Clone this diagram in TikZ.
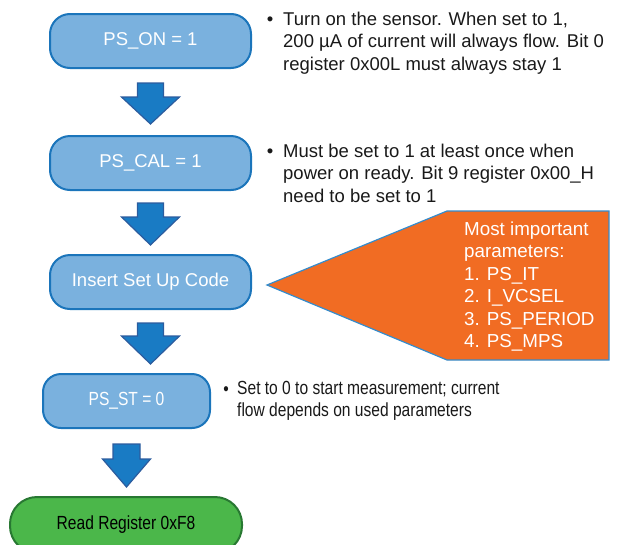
\documentclass[tikz,border=0pt]{standalone}
\usepackage{fontspec}
\setmainfont{Liberation Sans}
\newfontfamily\narrowsans[FakeStretch=0.82]{Liberation Sans}
\usepackage{xcolor}
\usetikzlibrary{calc, positioning}

\definecolor{boxblue}{RGB}{122,177,222}
\definecolor{boxline}{RGB}{27,117,187}
\definecolor{arrowblue}{RGB}{25,123,196}
\definecolor{arrowline}{RGB}{44,92,158}
\definecolor{gogreen}{RGB}{75,183,74}
\definecolor{goline}{RGB}{40,120,50}
\definecolor{calloutorange}{RGB}{241,108,35}
\definecolor{calloutline}{RGB}{52,140,205}

\begin{document}
\begin{tikzpicture}[x=1pt, y=-1pt,
		box/.style={draw=boxline, line width=2pt, fill=boxblue, rounded corners=20pt,
			minimum width=201pt, minimum height=54pt, inner sep=0pt,
			text=white, font=\fontsize{18.5}{22}\selectfont},
		gobox/.style={draw=goline, line width=2pt, fill=gogreen, rounded corners=27pt,
			minimum width=232pt, minimum height=56pt, inner sep=0pt,
			text=black, font=\narrowsans\fontsize{19}{22}\selectfont},
		blockarrow/.style={draw=arrowline, line width=1.2pt, fill=arrowblue, line join=miter},
		note/.style={inner sep=0pt, align=left, text=black!90, font=\fontsize{18.5}{22.4}\selectfont},
		callout/.style={draw=calloutline, line width=1.2pt, fill=calloutorange},
		params/.style={inner sep=0pt, align=left, text=white, font=\fontsize{18.8}{22.4}\selectfont}
		]
	\useasboundingbox (0,0) rectangle (626,544);

	% --- Etapes ---
	\node[box] (on) at (150.5,41) {PS\_ON = 1};
	\node[box] (cal) at (150.5,163) {PS\_CAL = 1};
	\node[box] (setup) at (150.5,282) {Insert Set Up Code};
	\node[box, minimum width=167pt, rounded corners=18pt, font=\narrowsans\fontsize{19}{22}\selectfont] (st) at (126.5,401) {PS\_ST = 0};
	\node[gobox] (read) at (126,525) {Read Register 0xF8};

	% --- Fleches ---
	\draw[blockarrow] ($(on.south)+(-13,14)$) -- ++(26,0) -- ++(0,14) -- ++(16,0) -- ++(-29,27) -- ++(-29,-27) -- ++(16,0) -- cycle;
	\draw[blockarrow] ($(cal.south)+(-13,12)$) -- ++(26,0) -- ++(0,14) -- ++(16,0) -- ++(-29,28) -- ++(-29,-28) -- ++(16,0) -- cycle;
	\draw[blockarrow] ($(setup.south)+(-13,13)$) -- ++(26,0) -- ++(0,13) -- ++(16,0) -- ++(-29,28) -- ++(-29,-28) -- ++(16,0) -- cycle;
	\draw[blockarrow] ($(st.south)+(-13.5,15)$) -- ++(27,0) -- ++(0,15) -- ++(10.5,0) -- ++(-24,28) -- ++(-24,-28) -- ++(10.5,0) -- cycle;

	% --- Notes ---
	\node[note, anchor=base] (b1) at (270,25) {•};
	\node[note, anchor=north west] (t1) at (283,11.7) {Turn on the sensor. When set to 1,\\200 µA of current will always flow. Bit 0\\register 0x00L must always stay 1};
	\node[note, anchor=base] (b2) at (270,157) {•};
	\node[note, anchor=north west] (t2) at (283,143.7) {Must be set to 1 at least once when\\power on ready. Bit 9 register 0x00\_H\\need to be set to 1};
	\node[note, anchor=base, font=\narrowsans\fontsize{19}{22}\selectfont] (b3) at (226,395) {•};
	\node[note, anchor=north west, font=\narrowsans\fontsize{19}{22}\selectfont] (t3) at (237,381.4) {Set to 0 to start measurement; current\\flow depends on used parameters};

	% --- Bulle des parametres ---
	\coordinate (tip) at ($(setup.east)+(15,3)$);
	\draw[callout] (tip) -- (447,211) -- (609,211) -- (609,360) -- (447,360) -- cycle;
	\node[params, anchor=north west] (par) at (464,221.7) {Most important\\parameters:\\1. PS\_IT\\2. I\_VCSEL\\3. PS\_PERIOD\\4. PS\_MPS};

\end{tikzpicture}
\end{document}
